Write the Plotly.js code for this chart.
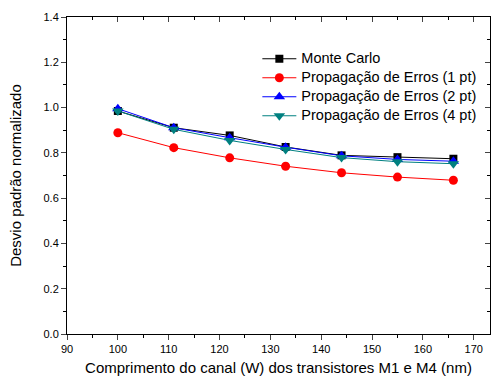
<!DOCTYPE html>
<html><head><meta charset="utf-8">
<script src="https://cdn.plot.ly/plotly-3.0.1.min.js"></script>
<style>html,body{margin:0;padding:0;background:#fff}#c{width:491px;height:381px}</style>
</head><body><div id="c"></div>
<script>
const widths = [100, 111, 122, 133, 144, 155, 166];
const monteCarlo = [0.985, 0.911, 0.877, 0.826, 0.789, 0.781, 0.774];
const erros1pt = [0.889, 0.823, 0.778, 0.741, 0.712, 0.693, 0.679];
const erros2pt = [0.995, 0.911, 0.867, 0.825, 0.787, 0.771, 0.763];
const erros4pt = [0.985, 0.904, 0.855, 0.815, 0.779, 0.761, 0.752];
const seriesNames = ["Monte Carlo", "Propagação de Erros (1 pt)", "Propagação de Erros (2 pt)", "Propagação de Erros (4 pt)"];
const xTitle = "Comprimento do canal (W) dos transistores M1 e M4 (nm)";
const yTitle = "Desvio padrão normalizado";

const font = "Liberation Sans, Arial, sans-serif";
function tr(y, name, color, symbol, size) {
  return {x: widths, y: y, name: '<span style="font-size:14.5px">' + name + '</span>', type: 'scatter', mode: 'lines+markers',
    line: {color: color, width: 1}, marker: {color: color, symbol: symbol, size: size}};
}
const data = [
  tr(monteCarlo, seriesNames[0], '#000000', 'square', 8),
  tr(erros1pt, seriesNames[1], '#ff0000', 'circle', 9),
  tr(erros2pt, seriesNames[2], '#0000ff', 'triangle-up', 10),
  tr(erros4pt, seriesNames[3], '#008080', 'triangle-down', 10)
];
const xr = [90, 173.2], yr = [0, 1.4];
const layout = {
  width: 491, height: 381,
  margin: {l: 67, r: 1, t: 17, b: 47},
  paper_bgcolor: '#fff', plot_bgcolor: '#fff',
  font: {family: font, color: '#000', size: 11},
  showlegend: true,
  legend: {x: 0.45, y: 0.914, xanchor: 'left', yanchor: 'top', bgcolor: 'rgba(0,0,0,0)',
    font: {family: font, size: 11, color: '#000'}, tracegroupgap: 0, itemwidth: 34},
  xaxis: {range: xr, dtick: 10, tick0: 90, ticks: 'outside', ticklen: 5, tickwidth: 1,
    showline: true, linecolor: '#000', linewidth: 1, showgrid: false, zeroline: false,
    tickfont: {family: font, size: 11}, minor: {dtick: 5, ticks: 'outside', ticklen: 3, tickcolor: '#000'},
    title: {text: xTitle, font: {family: font, size: 15}, standoff: 8}},
  yaxis: {range: yr, dtick: 0.2, tickformat: '.1f', ticks: 'outside', ticklen: 5, tickwidth: 1,
    showline: true, linecolor: '#000', linewidth: 1, showgrid: false, zeroline: false,
    tickfont: {family: font, size: 11}, minor: {dtick: 0.1, ticks: 'outside', ticklen: 3, tickcolor: '#000'},
    title: {text: yTitle, font: {family: font, size: 15}, standoff: 18}},
  xaxis2: {range: xr, overlaying: 'x', side: 'top', anchor: 'y', dtick: 10, tick0: 90, ticks: 'inside', ticklen: 5,
    showticklabels: false, showline: true, linecolor: '#000', showgrid: false, zeroline: false,
    minor: {dtick: 5, ticks: 'inside', ticklen: 3, tickcolor: '#000'}},
  yaxis2: {range: yr, overlaying: 'y', side: 'right', anchor: 'x', dtick: 0.2, ticks: 'inside', ticklen: 5,
    showticklabels: false, showline: true, linecolor: '#000', showgrid: false, zeroline: false,
    minor: {dtick: 0.1, ticks: 'inside', ticklen: 3, tickcolor: '#000'}}
};
data.push({x: [], y: [], xaxis: 'x2', yaxis: 'y2', showlegend: false, type: 'scatter'});
Plotly.newPlot('c', data, layout, {staticPlot: true});
</script></body></html>
